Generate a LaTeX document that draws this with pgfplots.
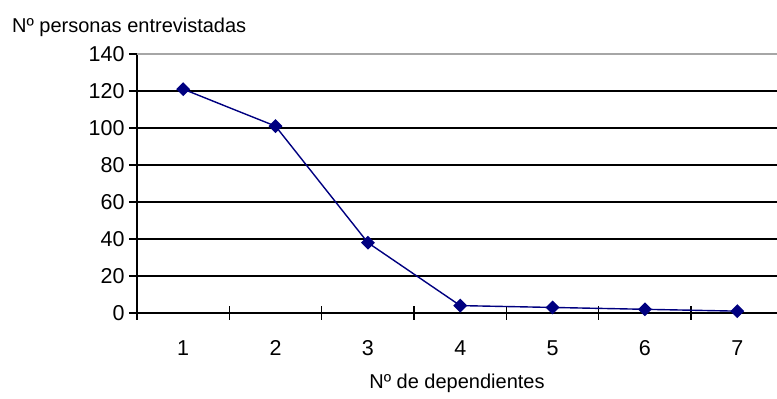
\documentclass[border=0pt]{standalone}
\usepackage{fontspec}
\setmainfont{Liberation Sans}
\usepackage{pgfplots}
\pgfplotsset{compat=1.18}
\definecolor{navy}{RGB}{0,0,128}
\begin{document}
\begin{tikzpicture}
\useasboundingbox (-137bp,-86bp) rectangle (640bp,313bp);
\begin{axis}[
  at={(0,0)}, anchor=south west,
  scale only axis,
  width=640bp, height=259bp,
  xmin=0.5, xmax=7.43,
  ymin=0, ymax=140,
  axis x line*=bottom, axis y line*=left,
  axis line style={-, line width=1.5bp, black},
  xtick={1,...,7},
  minor xtick={0.5,1.5,...,6.5},
  major x tick style={draw=none},
  minor x tick style={black, line width=1.3bp},
  ytick={0,20,...,140},
  y tick style={black, line width=1.3bp},
  ytick align=outside,
  xtick align=center,
  minor tick length=13bp,
  major tick length=8bp,
  ymajorgrids,
  grid style={black, line width=1.5bp},
  /pgf/number format/assume math mode=true,
  ticklabel style={font=\fontsize{21.5bp}{25bp}\selectfont},
  xticklabel style={anchor=base, yshift=-38bp},
  yticklabel style={anchor=east, xshift=-1bp},
  xlabel={Nº de dependientes},
  xlabel style={font=\fontsize{20bp}{24bp}\selectfont, at={(axis description cs:0.5,0)}, anchor=center, yshift=-70bp},
  ylabel={Nº personas entrevistadas},
  ylabel style={font=\fontsize{20bp}{24bp}\selectfont, rotate=-90, at={(axis description cs:0,1)}, anchor=base west, inner sep=0pt, xshift=-125bp, yshift=21.7bp},
  clip=false,
]
\addplot[navy, line width=1.4bp, mark=square*, mark size=4.2bp, mark options={rotate=45, fill=navy, draw=navy}] coordinates {
(1,121) (2,101) (3,38) (4,4) (5,3) (6,2) (7,1)
};
\draw[gray!70, line width=1.6bp] (axis description cs:0,1) -- (axis description cs:1,1);
\end{axis}
\end{tikzpicture}
\end{document}
